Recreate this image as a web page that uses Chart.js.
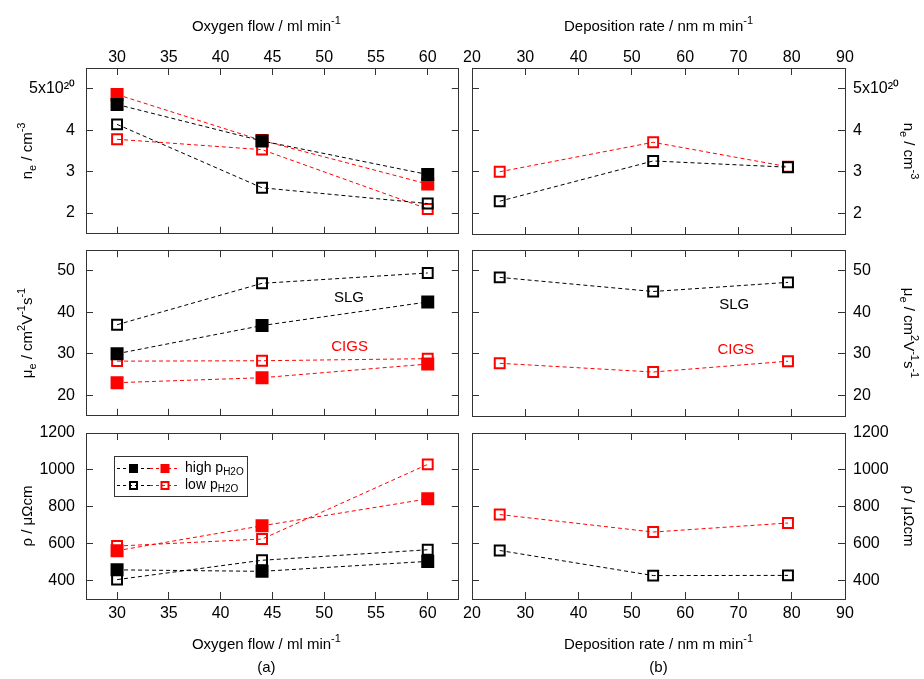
<!DOCTYPE html>
<html>
<head>
<meta charset="utf-8">
<script src="https://cdn.jsdelivr.net/npm/chart.js@4.4.0/dist/chart.umd.min.js"></script>
<style>
  body { margin: 0; background: #fff; width: 924px; height: 679px; position: relative; overflow: hidden; }
</style>
</head>
<body>
<script>
// x values
const oxygenFlow = [30, 44, 60];
const depositionRate = [25.2, 54, 79.3];

// carrier density n_e (x10^20 cm^-3)
const neHighSLG = [4.62, 3.74, 2.93];
const neHighCIGS = [4.86, 3.75, 2.70];
const neLowSLG = [4.14, 2.61, 2.23];
const neLowCIGS = [3.78, 3.53, 2.10];
const neRateSLG = [2.29, 3.26, 3.11];
const neRateCIGS = [3.00, 3.71, 3.12];

// mobility mu_e (cm2/Vs)
const muHighSLG = [30.0, 36.8, 42.5];
const muHighCIGS = [23.0, 24.2, 27.5];
const muLowSLG = [37.0, 47.0, 49.5];
const muLowCIGS = [28.2, 28.3, 28.8];
const muRateSLG = [48.4, 45.0, 47.2];
const muRateCIGS = [27.7, 25.6, 28.2];

// resistivity rho (µOhm cm)
const rhoHighSLG = [458, 450, 504];
const rhoHighCIGS = [562, 697, 843];
const rhoLowSLG = [405, 510, 567];
const rhoLowCIGS = [587, 625, 1030];
const rhoRateSLG = [563, 427, 428];
const rhoRateCIGS = [758, 663, 712];

// ticks
const flowTicks = [30, 35, 40, 45, 50, 55, 60];
const rateTicks = [20, 30, 40, 50, 60, 70, 80, 90];
const neTicks = [2, 3, 4, 5];
const muTicks = [20, 30, 40, 50];
const rhoTicks = [400, 600, 800, 1000, 1200];

const legendLabels = ['high p_{H2O}', 'low p_{H2O}'];

const BLACK = '#000000';
const RED = '#ff0000';
const AXIS = '#333333';
const FONT = '"Liberation Sans", Arial, Helvetica, sans-serif';

Chart.defaults.font.family = FONT;
Chart.defaults.font.size = 16;
Chart.defaults.color = '#000';

// geometry of the 3x2 grid (canvas + axis box sizes)
const cols = [{x: 0, w: 468, left: 86, right: 9, dx: -6}, {x: 463, w: 461, left: 8, right: 79, dx: 0}];
const rows = [{y: 0, h: 243, top: 68, bottom: 9}, {y: 241, h: 184, top: 9, bottom: 9}, {y: 420, h: 259, top: 13, bottom: 80}];

// text with ^{sup} and _{sub}
function richParts(str) {
  const out = [];
  const re = /([\^_])\{([^}]*)\}|([^\^_]+)/g;
  let m;
  while ((m = re.exec(str))) {
    if (m[3]) out.push({t: m[3], k: 0});
    else out.push({t: m[2], k: m[1] === '^' ? 1 : -1});
  }
  return out;
}

function drawRich(ctx, str, x, y, size, color, rot, align) {
  const parts = richParts(str);
  const fontOf = p => (p.k ? Math.round(size * 0.7) : size) + 'px ' + FONT;
  let w = 0;
  parts.forEach(p => { ctx.font = fontOf(p); p.w = ctx.measureText(p.t).width; w += p.w; });
  ctx.save();
  ctx.translate(x, y);
  ctx.rotate(rot || 0);
  ctx.fillStyle = color;
  ctx.textBaseline = 'middle';
  ctx.textAlign = 'left';
  let cx = align === 'left' ? 0 : -w / 2;
  parts.forEach(p => {
    ctx.font = fontOf(p);
    const dy = p.k === 1 ? -size * 0.42 : p.k === -1 ? size * 0.3 : 0;
    ctx.fillText(p.t, cx, dy);
    cx += p.w;
  });
  ctx.restore();
}

function drawLegend(chart) {
  const ctx = chart.ctx, a = chart.chartArea;
  const bx = Math.round(a.left) + 28, by = Math.round(a.top) + 23, bw = 133, bh = 40;
  ctx.save();
  ctx.strokeStyle = AXIS;
  ctx.lineWidth = 1;
  ctx.strokeRect(bx + 0.5, by + 0.5, bw, bh);
  legendLabels.forEach((lab, r) => {
    const y = by + 12 + r * 17;
    [[BLACK, 3, 36, 19.5], [RED, 36, 63, 51]].forEach(([col, x0, x1, mx]) => {
      ctx.strokeStyle = col;
      ctx.lineWidth = 1;
      ctx.setLineDash([3, 3]);
      ctx.beginPath();
      ctx.moveTo(bx + x0, y + 0.5);
      ctx.lineTo(bx + x1, y + 0.5);
      ctx.stroke();
      ctx.setLineDash([]);
      if (r === 0) {
        ctx.fillStyle = col;
        ctx.fillRect(bx + mx - 4.5, y - 4, 9, 9);
      } else {
        ctx.lineWidth = 2;
        ctx.strokeRect(bx + mx - 3.5, y - 3, 7, 7);
      }
    });
    drawRich(ctx, lab, bx + 71, y, 14, '#000', 0, 'left');
  });
  ctx.restore();
}

const decor = cfg => ({
  id: 'decor',
  afterDraw(chart) {
    const ctx = chart.ctx, a = chart.chartArea;
    const cx = (a.left + a.right) / 2 + (cfg.dx || 0);
    if (cfg.xTitle) drawRich(ctx, cfg.xTitle, cx, cfg.xTop ? a.top - 41 : a.bottom + 46, 15, '#000', 0);
    if (cfg.yTitle) {
      const x = cfg.yRight ? a.right + 63 : a.left - 58;
      drawRich(ctx, cfg.yTitle, x, (a.top + a.bottom) / 2, 15, '#000', cfg.yRight ? Math.PI / 2 : -Math.PI / 2);
    }
    if (cfg.caption) drawRich(ctx, cfg.caption, cx, a.bottom + 69, 15, '#000', 0);
    (cfg.notes || []).forEach(n => {
      drawRich(ctx, n.text, chart.scales.x.getPixelForValue(n.x), chart.scales.y.getPixelForValue(n.y), 15, n.color, 0);
    });
    if (cfg.legend) drawLegend(chart);
  }
});

function axis(pos, range, ticks, size, labels, fmt) {
  let pad = 0;
  if (labels) pad = {left: 18, right: 15, top: 8, bottom: 12}[pos];
  return {
    type: 'linear',
    position: pos,
    min: range[0],
    max: range[1],
    display: true,
    afterBuildTicks: s => { s.ticks = ticks.map(v => ({value: v})); },
    afterFit: s => {
      if (s.isHorizontal()) s.height = size; else s.width = size;
      s.paddingLeft = s.paddingRight = s.paddingTop = s.paddingBottom = 0;
    },
    grid: {drawOnChartArea: false, drawTicks: true, tickLength: -7, color: AXIS, lineWidth: 1},
    border: {display: true, color: AXIS, width: 1},
    ticks: {display: labels, padding: pad, color: '#000', autoSkip: false, maxRotation: 0,
      callback: fmt || (v => String(v))}
  };
}

function series(xs, ys, color, filled) {
  return {
    data: xs.map((x, i) => ({x: x, y: ys[i]})),
    borderColor: color,
    borderWidth: 1,
    borderDash: [4, 3],
    pointStyle: 'rect',
    pointRadius: filled ? 9.2 : 7,
    pointBorderWidth: filled ? 0 : 2,
    pointBackgroundColor: filled ? color : 'rgba(0,0,0,0)',
    pointBorderColor: color,
    fill: false,
    tension: 0
  };
}

const neFmt = v => (v === 5 ? '5x10\u00B2\u2070' : String(v));
const flowTitle = 'Oxygen flow / ml min^{-1}';
const rateTitle = 'Deposition rate / nm m min^{-1}';
const neTitle = 'n_{e} / cm^{-3}';
const muTitle = '\u03BC_{e} / cm^{2}V^{-1}s^{-1}';
const rhoTitle = '\u03C1 / \u03BC\u03A9cm';

const panels = [
  {col: 0, row: 0, xr: [27, 63], xt: flowTicks, yr: [1.5, 5.5], yt: neTicks, fmt: neFmt,
    sets: [series(oxygenFlow, neHighSLG, BLACK, true), series(oxygenFlow, neLowSLG, BLACK, false),
           series(oxygenFlow, neHighCIGS, RED, true), series(oxygenFlow, neLowCIGS, RED, false)],
    decor: {xTitle: flowTitle, xTop: true, yTitle: neTitle, dx: cols[0].dx}},
  {col: 1, row: 0, xr: [20, 90], xt: rateTicks, yr: [1.5, 5.5], yt: neTicks, fmt: neFmt,
    sets: [series(depositionRate, neRateSLG, BLACK, false), series(depositionRate, neRateCIGS, RED, false)],
    decor: {xTitle: rateTitle, xTop: true, yTitle: neTitle, yRight: true, dx: cols[1].dx}},
  {col: 0, row: 1, xr: [27, 63], xt: flowTicks, yr: [15, 55], yt: muTicks,
    sets: [series(oxygenFlow, muHighSLG, BLACK, true), series(oxygenFlow, muLowSLG, BLACK, false),
           series(oxygenFlow, muHighCIGS, RED, true), series(oxygenFlow, muLowCIGS, RED, false)],
    decor: {yTitle: muTitle, notes: [{text: 'SLG', x: 52.4, y: 43.4, color: BLACK}, {text: 'CIGS', x: 52.45, y: 31.6, color: RED}]}},
  {col: 1, row: 1, xr: [20, 90], xt: rateTicks, yr: [15, 55], yt: muTicks,
    sets: [series(depositionRate, muRateSLG, BLACK, false), series(depositionRate, muRateCIGS, RED, false)],
    decor: {yTitle: muTitle, yRight: true, notes: [{text: 'SLG', x: 69.2, y: 41.9, color: BLACK}, {text: 'CIGS', x: 69.5, y: 30.9, color: RED}]}},
  {col: 0, row: 2, xr: [27, 63], xt: flowTicks, yr: [300, 1200], yt: rhoTicks,
    sets: [series(oxygenFlow, rhoHighSLG, BLACK, true), series(oxygenFlow, rhoLowSLG, BLACK, false),
           series(oxygenFlow, rhoHighCIGS, RED, true), series(oxygenFlow, rhoLowCIGS, RED, false)],
    decor: {xTitle: flowTitle, yTitle: rhoTitle, caption: '(a)', legend: true, dx: cols[0].dx}},
  {col: 1, row: 2, xr: [20, 90], xt: rateTicks, yr: [300, 1200], yt: rhoTicks,
    sets: [series(depositionRate, rhoRateSLG, BLACK, false), series(depositionRate, rhoRateCIGS, RED, false)],
    decor: {xTitle: rateTitle, yTitle: rhoTitle, yRight: true, caption: '(b)', dx: cols[1].dx}}
];

function buildPanel(p) {
  const c = cols[p.col], r = rows[p.row];
  const cv = document.createElement('canvas');
  cv.width = c.w;
  cv.height = r.h;
  cv.style.cssText = 'position:absolute;left:' + c.x + 'px;top:' + r.y + 'px';
  document.body.appendChild(cv);
  const xPos = p.row === 0 ? 'top' : 'bottom';
  const x2Pos = xPos === 'top' ? 'bottom' : 'top';
  const yPos = p.col === 0 ? 'left' : 'right';
  const y2Pos = yPos === 'left' ? 'right' : 'left';
  const size = pos => ({top: r.top, bottom: r.bottom, left: c.left, right: c.right})[pos];
  return new Chart(cv, {
    type: 'line',
    data: {datasets: p.sets},
    options: {
      responsive: false,
      animation: false,
      events: [],
      layout: {padding: 0},
      plugins: {legend: {display: false}, tooltip: {enabled: false}},
      scales: {
        x: axis(xPos, p.xr, p.xt, size(xPos), p.row !== 1),
        x2: axis(x2Pos, p.xr, p.xt, size(x2Pos), false),
        y: axis(yPos, p.yr, p.yt, size(yPos), true, p.fmt),
        y2: axis(y2Pos, p.yr, p.yt, size(y2Pos), false)
      }
    },
    plugins: [decor(p.decor)]
  });
}

panels.forEach(buildPanel);
</script>
</body>
</html>
